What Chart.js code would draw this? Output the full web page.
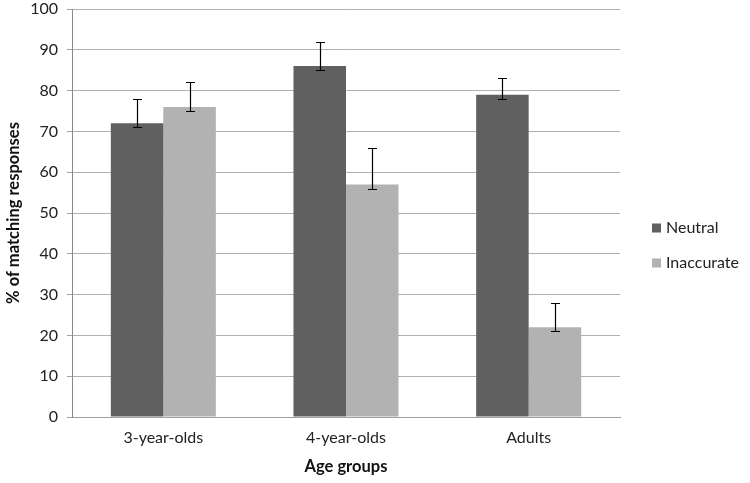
<!DOCTYPE html>
<html>
<head>
<meta charset="utf-8">
<script src="https://cdn.jsdelivr.net/npm/chart.js@4.4.1/dist/chart.umd.min.js"></script>
<style>
  html, body { margin: 0; padding: 0; background: #ffffff; }
  #wrap { width: 750px; height: 483px; }
</style>
</head>
<body>
<div id="wrap"><canvas id="c" width="750" height="483"></canvas></div>
<script>
const categories = ["3-year-olds", "4-year-olds", "Adults"];
const seriesNames = ["Neutral", "Inaccurate"];
const neutralValues = [72, 86, 79];
const inaccurateValues = [76, 57, 22];
const neutralErrUpper = [78, 92, 83];
const neutralErrLower = [71, 85, 78];
const inaccurateErrUpper = [82, 66, 28];
const inaccurateErrLower = [75, 56, 21];
const yTicks = [0, 10, 20, 30, 40, 50, 60, 70, 80, 90, 100];

const FONT = "Lato, 'Open Sans', 'Liberation Sans', sans-serif";

const errorBars = {
  id: 'errorBars',
  afterDatasetsDraw(chart) {
    const ctx = chart.ctx;
    const y = chart.scales.y;
    chart.data.datasets.forEach((ds, di) => {
      const meta = chart.getDatasetMeta(di);
      meta.data.forEach((bar, i) => {
        const x = Math.round(bar.x) + 0.5;
        const yHi = Math.round(y.getPixelForValue(ds.errUpper[i])) + 0.5;
        const yLo = Math.round(y.getPixelForValue(ds.errLower[i])) + 0.5;
        ctx.save();
        ctx.strokeStyle = '#000000';
        ctx.lineWidth = 1.2;
        ctx.beginPath();
        ctx.moveTo(x, yHi); ctx.lineTo(x, yLo);
        ctx.moveTo(x - 4.5, yHi); ctx.lineTo(x + 4.5, yHi);
        ctx.moveTo(x - 4.5, yLo); ctx.lineTo(x + 4.5, yLo);
        ctx.stroke();
        ctx.restore();
      });
    });
  }
};

const sideLegend = {
  id: 'sideLegend',
  afterDraw(chart) {
    const ctx = chart.ctx;
    const area = chart.chartArea;
    const boxX = area.right + 32;
    const centerY = (area.top + area.bottom) / 2;
    const step = 35;
    const startY = centerY + 15;
    ctx.save();
    ctx.font = "16px " + FONT;
    ctx.textBaseline = 'middle';
    ctx.textAlign = 'left';
    chart.data.datasets.forEach((ds, i) => {
      const cy = startY + i * step;
      ctx.fillStyle = ds.backgroundColor;
      ctx.fillRect(boxX, cy - 4.5, 9, 9);
      ctx.fillStyle = '#222222';
      ctx.fillText(ds.label, boxX + 14, cy);
    });
    ctx.restore();
  }
};

new Chart(document.getElementById('c'), {
  type: 'bar',
  data: {
    labels: categories,
    datasets: [
      { label: seriesNames[0], data: neutralValues, backgroundColor: '#606060',
        errUpper: neutralErrUpper, errLower: neutralErrLower },
      { label: seriesNames[1], data: inaccurateValues, backgroundColor: '#b2b2b2',
        errUpper: inaccurateErrUpper, errLower: inaccurateErrLower }
    ]
  },
  options: {
    responsive: false,
    animation: false,
    layout: { padding: { top: 0, right: 130, left: 0, bottom: 0 } },
    datasets: { bar: { categoryPercentage: 0.575, barPercentage: 1.0 } },
    plugins: {
      legend: { display: false },
      tooltip: { enabled: false }
    },
    scales: {
      x: {
        grid: { display: false, drawTicks: false },
        border: { display: true, color: '#a0a0a0', width: 1 },
        ticks: { color: '#222222', font: { family: FONT, size: 16 }, padding: 11 },
        title: { display: true, text: 'Age groups', color: '#111111',
                 font: { family: FONT, size: 16.5, weight: 'bold' }, padding: { top: 4, bottom: 6 } },
        afterFit(scale) { scale.height = 66; }
      },
      y: {
        min: 0, max: 100,
        afterBuildTicks(scale) { scale.ticks = yTicks.map(v => ({ value: v })); },
        grid: { color: '#b0b0b0', lineWidth: 1, tickLength: 5, drawTicks: true, tickColor: '#a0a0a0' },
        border: { display: true, color: '#8a8a8a', width: 1 },
        ticks: { color: '#222222', font: { family: FONT, size: 16 }, padding: 9 },
        title: { display: true, text: '% of matching responses', color: '#111111',
                 font: { family: FONT, size: 16.5, weight: 'bold' }, padding: { top: 4, bottom: 4 } },
        afterFit(scale) { scale.width = 72; scale.paddingTop = 9; scale.paddingBottom = 0; }
      }
    }
  },
  plugins: [errorBars, sideLegend]
});
</script>
</body>
</html>
